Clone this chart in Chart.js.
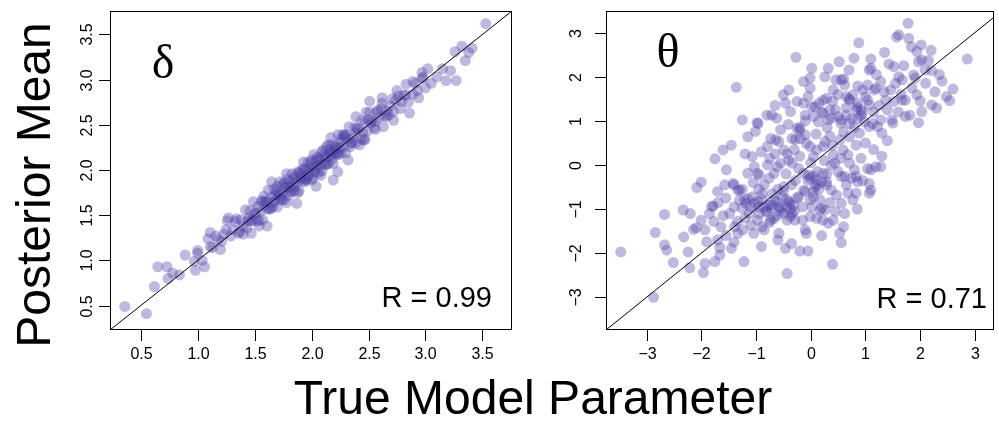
<!DOCTYPE html>
<html>
<head>
<meta charset="utf-8">
<script src="https://cdn.jsdelivr.net/npm/chart.js@4.4.1/dist/chart.umd.min.js"></script>
<style>
  html, body { margin: 0; padding: 0; background: #fff; }
  #wrap { position: relative; width: 999px; height: 422px; overflow: hidden; }
  canvas { position: absolute; top: 0; }
  #deltaChart { left: 0; }
  #thetaChart { left: 540px; }
  #xTitle {
    position: absolute; left: 0; width: 1066px; top: 374px;
    text-align: center; font: 48px/48px "Liberation Sans", Arial, sans-serif; color: #000;
  }
</style>
</head>
<body>
<div id="wrap">
  <canvas id="deltaChart" width="540" height="422"></canvas>
  <canvas id="thetaChart" width="459" height="422"></canvas>
  <div id="xTitle">True Model Parameter</div>
</div>
<script>
// ---- data (true value, posterior mean) ----
const deltaPairs = [
  [0.36,0.49],[0.55,0.41],[0.62,0.71],[0.65,0.93],[0.73,0.93],[0.74,0.80],[0.78,0.86],[0.84,0.84],[0.89,1.06],[1.00,1.11],
  [0.97,0.99],[1.06,0.93],[0.98,0.89],[1.11,1.15],[1.11,1.31],[1.18,1.23],[1.27,1.47],[1.40,1.38],[1.47,1.30],[1.54,1.38],
  [1.61,1.38],[1.65,1.87],[1.78,1.96],[1.87,1.63],[2.04,1.82],[2.19,1.89],[2.23,1.98],[2.17,2.36],[2.32,2.11],[2.39,2.59],
  [2.48,2.64],[2.51,2.76],[2.47,2.34],[2.56,2.45],[2.62,2.80],[2.66,2.59],[2.72,2.55],[2.76,2.82],[2.83,2.95],[2.86,2.63],
  [2.89,2.84],[2.91,2.96],[2.97,3.08],[2.98,3.02],[3.00,2.91],[3.02,3.12],[3.10,3.03],[3.15,3.12],[3.18,2.99],[3.22,3.10],
  [3.27,2.99],[3.26,3.31],[3.32,3.37],[3.35,3.21],[3.41,3.35],[3.38,3.30],[3.53,3.62],[3.05,2.96],[2.94,2.80],
  [1.00,1.08],[1.04,1.00],[1.09,1.24],[1.13,1.14],[1.16,1.27],[1.20,1.12],[1.23,1.29],[1.26,1.44],[1.29,1.27],[1.31,1.34],
  [1.34,1.46],[1.36,1.30],[1.38,1.45],[1.40,1.29],[1.42,1.56],[1.44,1.44],[1.46,1.55],[1.47,1.44],[1.49,1.65],[1.50,1.51],
  [1.52,1.44],[1.53,1.60],[1.55,1.54],[1.56,1.66],[1.57,1.45],[1.59,1.61],[1.60,1.65],[1.61,1.57],[1.62,1.78],[1.64,1.57],
  [1.65,1.70],[1.66,1.59],[1.67,1.79],[1.68,1.66],[1.69,1.77],[1.70,1.59],[1.71,1.74],[1.72,1.87],[1.73,1.68],[1.74,1.74],
  [1.75,1.84],[1.76,1.67],[1.77,1.81],[1.78,1.64],[1.79,1.90],[1.80,1.77],[1.81,1.87],[1.82,1.76],[1.83,1.96],[1.84,1.85],
  [1.85,1.77],[1.86,1.93],[1.87,1.86],[1.88,1.98],[1.89,1.77],[1.90,1.92],[1.91,1.96],[1.92,1.88],[1.93,2.09],[1.94,1.87],
  [1.95,2.00],[1.96,1.89],[1.97,2.09],[1.98,1.96],[1.99,2.07],[2.00,1.89],[2.01,2.04],[2.02,2.17],[2.03,1.98],[2.04,2.04],
  [2.05,2.14],[2.06,1.97],[2.07,2.11],[2.08,1.94],[2.09,2.20],[2.10,2.07],[2.11,2.17],[2.12,2.06],[2.13,2.26],[2.14,2.15],
  [2.15,2.07],[2.16,2.23],[2.17,2.16],[2.18,2.28],[2.19,2.07],[2.20,2.22],[2.21,2.26],[2.22,2.18],[2.23,2.39],[2.24,2.17],
  [2.25,2.30],[2.26,2.19],[2.27,2.39],[2.28,2.26],[2.29,2.37],[2.30,2.19],[2.32,2.35],[2.33,2.48],[2.35,2.30],[2.36,2.36],
  [2.38,2.47],[2.39,2.30],[2.41,2.45],[2.42,2.28],[2.44,2.55],[2.45,2.42],[2.47,2.53],[2.49,2.43],[2.51,2.64],[2.53,2.54],
  [2.55,2.47],[2.57,2.64],[2.59,2.58],[2.61,2.68],[2.63,2.48],[2.66,2.65],[2.69,2.71],[2.72,2.65],[2.75,2.88],[2.78,2.68],
  [2.81,2.83],[2.85,2.75],[2.89,2.98],[2.93,2.88],[2.97,3.02],
  [1.21,1.21],[1.33,1.43],[1.43,1.36],[1.51,1.53],[1.58,1.71],[1.63,1.57],[1.68,1.72],[1.72,1.71],[1.76,1.86],[1.80,1.72],
  [1.84,1.90],[1.88,1.75],[1.91,1.91],[1.94,2.02],[1.97,1.93],[2.00,2.11],[2.03,2.00],[2.06,2.13],[2.09,1.99],[2.12,2.14],
  [2.15,2.28],[2.18,2.12],[2.21,2.25],[2.25,2.24],[2.29,2.39],[2.34,2.26],[2.40,2.46],[2.46,2.33],[2.52,2.52],[2.58,2.66],
  [2.64,2.60],[2.71,2.79],[2.79,2.76],
  [1.25,1.34],[1.37,1.32],[1.45,1.47],[1.54,1.44],[1.60,1.66],[1.66,1.64],[1.70,1.82],[1.74,1.67],[1.78,1.81],[1.81,1.81],
  [1.85,1.81],[1.89,1.97],[1.92,2.01],[1.95,1.90],[1.98,2.00],[2.01,1.91],[2.04,2.10],[2.07,2.05],[2.10,2.22],[2.13,2.06],
  [2.16,2.19],[2.19,2.19],[2.22,2.18],[2.26,2.34],[2.30,2.39],[2.35,2.30],[2.39,2.41],[2.44,2.34],[2.50,2.56],[2.56,2.54],
  [2.62,2.74],[2.68,2.61],[2.74,2.77],[2.83,2.83],[1.48,1.44],[1.57,1.65]
];

const thetaPairs = [
  [1.78,3.21],[1.61,2.95],[1.57,2.90],[1.79,2.87],[0.88,2.77],[1.84,2.68],[2.02,2.72],[1.94,2.57],
  [-0.27,2.44],[0.79,2.42],[0.52,2.34],[1.10,2.40],[1.10,2.19],[1.43,2.29],[1.52,2.23],[1.97,2.34],[2.15,2.37],[2.03,2.38],[2.86,2.40],
  [0.02,2.19],[0.32,2.19],[0.26,2.00],[0.46,1.93],[-0.01,1.97],[-0.13,1.89],[0.62,1.81],[0.56,1.93],[1.07,2.15],[1.04,1.81],
  [1.28,1.89],[1.61,2.00],[1.67,1.93],[1.88,2.04],[1.91,1.97],[2.09,2.15],[2.21,2.14],
  [-1.36,1.76],[-0.50,1.59],[-0.46,1.40],[-0.25,1.44],[-0.13,1.40],[-0.01,1.74],[0.02,1.32],[0.08,1.32],[0.23,1.47],[0.29,1.51],
  [0.41,1.70],[0.35,1.25],[0.65,1.55],[0.71,1.47],[0.77,1.59],[0.86,1.79],[0.85,1.32],[0.92,1.25],[1.04,1.47],[1.07,1.36],
  [1.16,1.70],[1.19,1.74],[1.34,1.66],[1.37,1.47],[1.46,1.70],[1.52,1.44],[1.67,1.47],[1.73,1.47],[1.94,1.59],[2.27,1.66],
  [2.48,1.55],[2.54,1.46],[2.60,1.72],[2.21,1.36],[2.30,1.29],[2.03,1.21],
  [-1.25,1.02],[-0.98,0.96],[-0.96,0.94],[-0.80,1.13],[-0.62,1.06],[-0.71,1.13],[-0.41,0.92],[-0.37,1.21],[-0.25,0.83],[-0.20,0.79],
  [-0.10,1.13],[0.05,1.10],[0.14,0.98],[0.23,1.17],[0.32,1.02],[0.38,1.06],[0.50,1.10],[0.56,1.02],[0.65,1.13],[0.71,0.94],
  [0.83,1.25],[0.86,1.06],[0.92,1.13],[0.98,0.98],[1.07,0.87],[1.13,0.94],[1.22,0.87],[1.28,1.02],[1.48,1.02],[1.73,1.10],
  [1.81,1.13],[1.97,0.96],
  [-1.60,0.34],[-1.45,0.45],[-1.75,0.14],[-1.15,0.64],[-1.01,0.76],[-0.79,0.42],[-0.73,0.60],[-0.64,0.57],[-0.58,0.53],[-0.49,0.34],
  [-0.43,0.25],[-0.34,0.60],[-0.28,0.58],[-0.19,0.60],[-0.10,0.68],[-0.08,0.49],[-0.01,0.42],[0.05,0.19],[0.11,0.34],[0.23,0.42],
  [0.26,0.53],[0.41,0.23],[0.53,0.57],[0.59,0.34],[0.68,0.23],[0.71,0.64],[0.83,0.45],[0.89,0.72],[1.30,0.72],
  [-1.54,-0.11],[-1.57,-0.45],[-1.42,-0.42],[-1.30,-0.57],[-1.15,-0.19],[-1.07,0.19],[-0.97,-0.19],[-1.03,-0.04],[-0.94,-0.23],[-0.79,0.00],
  [-0.76,-0.30],[-0.67,-0.19],[-0.61,-0.04],[-0.55,0.04],[-0.49,-0.49],[-0.40,0.11],[-0.34,0.04],[-0.22,-0.08],[-0.13,-0.19],[-0.04,-0.23],
  [-0.01,-0.30],[0.05,-0.25],[0.11,-0.34],[0.20,-0.38],[0.23,-0.19],[0.29,-0.38],[0.38,0.00],[0.44,0.04],[0.50,-0.15],[0.56,-0.26],
  [0.62,-0.26],[0.71,0.04],[0.80,-0.11],[0.83,-0.26],[0.86,-0.38],[1.04,-0.08],[1.10,-0.11],[1.19,-0.04],[1.28,-0.04],[1.07,-0.42],
  [-2.08,-0.51],[-2.00,-0.39],[-1.81,-0.94],[-1.78,-0.93],[-1.70,-0.60],[-1.69,-0.85],[-1.48,-1.10],[-1.40,-0.45],[-1.34,-1.28],[-1.33,-0.57],
  [-1.25,-0.98],[-1.21,-0.79],[-1.18,-0.87],[-1.15,-0.76],[-1.12,-1.10],[-1.06,-0.72],[-1.03,-0.87],[-0.97,-0.83],[-0.94,-1.10],[-0.88,-0.79],
  [-0.85,-0.95],[-0.82,-1.06],[-0.76,-0.91],[-0.73,-0.98],[-0.67,-0.79],[-0.61,-0.83],[-0.58,-0.95],[-0.55,-0.98],[-0.49,-1.10],[-0.43,-0.79],
  [-0.40,-0.83],[-0.37,-1.02],[-0.34,-1.10],[-0.31,-0.91],[-0.22,-0.72],[-0.13,-0.57],[-0.10,-0.60],[-0.01,-0.79],[0.05,-0.72],[0.08,-0.49],
  [0.11,-0.45],[0.17,-0.79],[0.20,-0.98],[0.26,-1.02],[0.29,-0.45],[0.38,-0.57],[0.47,-0.68],[0.56,-0.87],[0.68,-0.64],[0.77,-0.79],
  [0.83,-0.64],[1.07,-0.64],[1.10,-0.57],
  [-2.67,-1.12],[-2.84,-1.53],[-2.67,-1.81],[-2.63,-1.93],[-2.51,-2.21],[-2.33,-1.02],[-2.32,-1.63],[-2.24,-1.97],[-2.20,-1.10],[-2.14,-1.46],
  [-2.09,-1.42],[-1.93,-1.47],[-1.90,-1.74],[-1.77,-1.28],[-1.70,-1.70],[-1.66,-1.87],[-1.64,-1.40],[-1.45,-1.89],[-1.39,-1.40],[-1.33,-1.55],
  [-1.24,-1.47],[-1.09,-1.36],[-1.04,-1.55],[-0.97,-1.25],[-0.89,-1.40],[-0.85,-1.47],[-0.73,-1.25],[-0.67,-1.21],[-0.58,-1.55],[-0.46,-1.89],
  [-0.43,-1.25],[-0.37,-1.17],[-0.35,-1.78],[-0.29,-1.25],[-0.10,-1.47],[-0.08,-1.55],[-0.01,-1.17],[0.11,-1.21],[0.17,-1.02],[0.22,-1.25],
  [0.32,-1.32],[0.41,-1.25],[0.53,-1.55],[0.56,-1.76],
  [-2.21,-2.33],[-1.96,-2.44],[-1.93,-2.23],[-1.75,-2.19],[-1.66,-2.04],[-1.22,-2.19],[-0.43,-2.46],[0.40,-2.25],[-2.87,-3.00],[-3.47,-1.97],
  [-0.95,-0.95],[-0.80,-1.05],[-0.70,-0.90],[-0.62,-1.15],[-0.55,-1.05],[-0.45,-0.95],[-0.38,-0.88],[-0.30,-1.05],[-0.52,-0.72],[-0.88,-0.65],
  [-1.10,-0.95],[-1.30,-0.80],[-1.20,-1.20],[-0.75,-1.30],[-0.25,-0.75],[-0.15,-0.95],[0.05,-0.60],[0.15,-0.55],[-0.05,-0.35],[-0.60,-0.55],
  [0.45,1.25],[0.55,0.95],[0.65,1.30],[0.75,1.05],[0.85,1.40],[0.95,1.20],[0.30,0.85],[0.40,1.45],[0.60,0.75],[0.80,0.85],
  [1.00,1.55],[1.15,1.20],[0.20,1.20],[0.50,1.60],[0.70,1.50],[-0.10,1.00],[-0.20,0.85],[0.10,0.70],[1.25,1.35],[1.40,1.25],
  [-0.45,-0.20],[-0.20,0.20],[0.00,0.05],[0.30,-0.20],[0.55,0.15],[-0.65,0.25],[-0.90,0.30],[0.40,0.45],[-0.35,-0.45],[0.65,-0.45],
  [-1.55,-0.75],[-1.40,-0.95],[-1.60,-1.15],[-1.25,-0.55],[-1.05,-0.40],[-0.85,-0.45],[-0.70,-0.65],[-0.50,-0.60],[-0.28,-0.35],[-0.15,-1.25],
  [0.02,-0.95],[0.12,-0.15],[0.35,-0.85],[0.45,-1.05],[0.62,-1.10],[0.75,-0.30],[0.95,-0.35],[0.92,0.15],[1.15,0.35],[1.40,0.55],
  [-0.55,0.80],[-0.75,0.15],[-0.95,-0.55],[-1.85,-1.10],[-2.00,-1.25],[-1.55,-1.60],[-0.90,-1.85],[-0.60,-1.70],[-0.20,-1.95],[0.20,-1.60],
  [0.35,0.65],[0.15,1.40],[-0.05,1.55],[0.60,1.95],[0.95,1.70],[1.20,2.05],[1.35,2.55],[1.55,1.85],[1.70,2.25],[1.85,1.75],
  [2.10,1.85],[2.35,2.05],[2.00,1.45],[1.60,1.20],[1.30,0.20],[0.70,2.15],[-0.40,1.70],[-0.65,1.35],[0.25,0.10],[-0.30,0.35],
  [-1.20,0.25],[-1.40,-1.75],[0.85,-1.00],[0.60,-1.40],[-0.05,-1.95],[1.50,0.95],[1.65,1.60],[2.40,1.90],[2.20,2.60],[1.00,0.50]
];

// axis ranges, ticks and labels
const deltaRange = [0.23, 3.76];
const thetaXRange = [-3.74, 3.34];
const thetaYRange = [-3.74, 3.49];
const deltaTicks = [0.5, 1.0, 1.5, 2.0, 2.5, 3.0, 3.5];
const deltaTickLabels = ['0.5', '1.0', '1.5', '2.0', '2.5', '3.0', '3.5'];
const thetaTicks = [-3, -2, -1, 0, 1, 2, 3];
const thetaTickLabels = ['\u22123', '\u22122', '\u22121', '0', '1', '2', '3'];
// identity line end points
const deltaDiagonal = [0, 4];
const thetaDiagonal = [-4, 4];

const pointColor = 'rgba(75, 65, 165, 0.36)';
const sansFont = '"Liberation Sans", Arial, Helvetica, sans-serif';
const serifFont = '"Liberation Serif", "Times New Roman", serif';

// draws box, R-style tick marks, tick labels and panel text
const rStyleAxes = {
  id: 'rStyleAxes',
  afterDatasetsDraw(chart, args, opts) {
    const { ctx, chartArea: a, scales: { x, y } } = chart;
    ctx.save();
    ctx.strokeStyle = '#000';
    ctx.fillStyle = '#000';
    ctx.lineWidth = 1;
    ctx.strokeRect(Math.round(a.left) + 0.5, Math.round(a.top) + 0.5,
      Math.round(a.right - a.left) - 1, Math.round(a.bottom - a.top) - 1);

    ctx.font = '16px ' + sansFont;
    ctx.textAlign = 'center';
    ctx.textBaseline = 'middle';
    opts.xTicks.forEach((v, i) => {
      const px = Math.round(x.getPixelForValue(v)) + 0.5;
      ctx.beginPath();
      ctx.moveTo(px, a.bottom);
      ctx.lineTo(px, a.bottom + 11);
      ctx.stroke();
      ctx.fillText(opts.xLabels[i], px, a.bottom + 25);
    });
    opts.yTicks.forEach((v, i) => {
      const py = Math.round(y.getPixelForValue(v)) + 0.5;
      ctx.beginPath();
      ctx.moveTo(a.left - 11, py);
      ctx.lineTo(a.left, py);
      ctx.stroke();
      ctx.save();
      ctx.translate(a.left - opts.yLabelGap, py);
      ctx.rotate(-Math.PI / 2);
      ctx.fillText(opts.yLabels[i], 0, 0);
      ctx.restore();
    });

    // greek symbol
    ctx.font = '48px ' + serifFont;
    ctx.textBaseline = 'alphabetic';
    ctx.fillText(opts.symbol, opts.symbolAt[0], opts.symbolAt[1]);

    // correlation
    ctx.font = '29px ' + sansFont;
    ctx.textAlign = 'right';
    ctx.fillText(opts.rText, opts.rAt[0], opts.rAt[1]);

    if (opts.yTitle) {
      ctx.save();
      ctx.font = '48px ' + sansFont;
      ctx.textAlign = 'center';
      ctx.translate(50, 185);
      ctx.rotate(-Math.PI / 2);
      ctx.fillText(opts.yTitle, 0, 0);
      ctx.restore();
    }
    ctx.restore();
  }
};

function makePanel(canvasId, pairs, diag, xRange, yRange, padding, axisOpts) {
  const ctx = document.getElementById(canvasId).getContext('2d');
  return new Chart(ctx, {
    type: 'scatter',
    data: {
      datasets: [
        {
          data: diag.map(v => ({ x: v, y: v })),
          showLine: true,
          borderColor: '#000',
          borderWidth: 1,
          pointRadius: 0,
          clip: 0,
          order: 0
        },
        {
          data: pairs.map(p => ({ x: p[0], y: p[1] })),
          backgroundColor: pointColor,
          borderWidth: 0,
          pointRadius: 5.5,
          order: 1
        }
      ]
    },
    options: {
      responsive: false,
      animation: false,
      events: [],
      layout: { padding: padding },
      scales: {
        x: { type: 'linear', display: false, min: xRange[0], max: xRange[1] },
        y: { type: 'linear', display: false, min: yRange[0], max: yRange[1] }
      },
      plugins: {
        legend: { display: false },
        tooltip: { enabled: false },
        rStyleAxes: axisOpts
      }
    },
    plugins: [rStyleAxes]
  });
}

makePanel('deltaChart', deltaPairs, deltaDiagonal, deltaRange, deltaRange,
  { left: 110, top: 11, right: 28, bottom: 92 },
  {
    xTicks: deltaTicks, xLabels: deltaTickLabels,
    yTicks: deltaTicks, yLabels: deltaTickLabels, yLabelGap: 22,
    symbol: '\u03b4', symbolAt: [163, 78],
    rText: 'R = 0.99', rAt: [492, 307],
    yTitle: 'Posterior Mean'
  });

makePanel('thetaChart', thetaPairs, thetaDiagonal, thetaXRange, thetaYRange,
  { left: 66, top: 11, right: 1, bottom: 92 },
  {
    xTicks: thetaTicks, xLabels: thetaTickLabels,
    yTicks: thetaTicks, yLabels: thetaTickLabels, yLabelGap: 29,
    symbol: '\u03b8', symbolAt: [128, 67],
    rText: 'R = 0.71', rAt: [447, 308]
  });
</script>
</body>
</html>
